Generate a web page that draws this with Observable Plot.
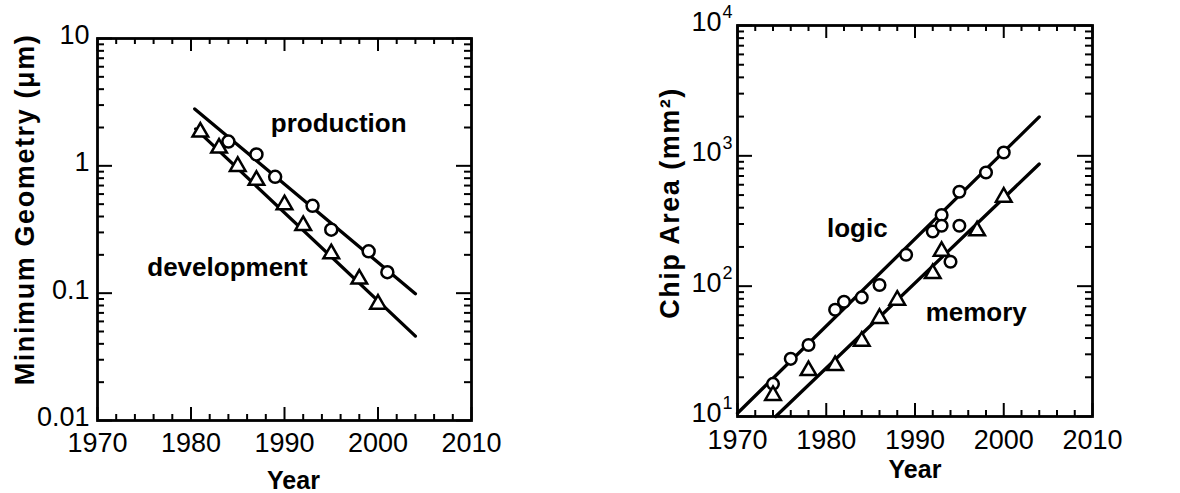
<!DOCTYPE html>
<html><head><meta charset="utf-8">
<script src="https://cdn.jsdelivr.net/npm/d3@7"></script>
<script src="https://cdn.jsdelivr.net/npm/@observablehq/plot@0.6"></script>
<style>
html,body{margin:0;padding:0;background:#fff;}
#wrap{position:relative;width:1180px;height:493px;overflow:hidden;background:#fff;}
#left{position:absolute;left:0;top:0;}
#right{position:absolute;left:600px;top:0;}
svg{overflow:visible;}
</style></head><body><div id="wrap"><div id="left"></div><div id="right"></div></div>
<script>
// ---------- Left panel: minimum geometry ----------
const prodYears = [1984, 1987, 1989, 1993, 1995, 1999, 2001];
const prodValues = [1.55, 1.23, 0.82, 0.485, 0.315, 0.213, 0.146];
const devYears = [1981, 1983, 1985, 1987, 1990, 1992, 1995, 1998, 2000];
const devValues = [1.84, 1.38, 0.99, 0.77, 0.495, 0.34, 0.204, 0.129, 0.082];
const prodTrendYears = [1980.4, 2004];
const prodTrendValues = [2.8, 0.099];
const devTrendYears = [1980.5, 2004];
const devTrendValues = [1.95, 0.046];
const leftLabels = ["production", "development"];
const leftLabelYears = [1995.8, 1983.9];
const leftLabelValues = [2.13, 0.16];

// ---------- Right panel: chip area ----------
const logicYears = [1974, 1976, 1978, 1981, 1982, 1984, 1986, 1989, 1992, 1993, 1993, 1994, 1995, 1995, 1998, 2000];
const logicValues = [17.8, 27.7, 35.4, 66, 76, 82, 102, 174, 263, 352, 291, 154, 530, 291, 745, 1060];
const memoryYears = [1974, 1978, 1981, 1984, 1986, 1988, 1992, 1993, 1997, 2000];
const memoryValues = [14.5, 22.5, 24.6, 37.8, 56.6, 78, 125, 185, 266, 482];
const logicTrendYears = [1970, 2004];
const logicTrendValues = [10.6, 1990];
const memoryTrendYears = [1974.3, 2004];
const memoryTrendValues = [10, 865];
const rightLabels = ["logic", "memory"];
const rightLabelYears = [1983.5, 1996.9];
const rightLabelValues = [275, 63];

// ---------- Axes ----------
const yearTicks = [1970, 1980, 1990, 2000, 2010];
const leftYTicks = [0.01, 0.1, 1, 10];
const leftYTickLabels = ["0.01", "0.1", "1", "10"];
const rightYTicks = [10, 100, 1000, 10000];
const rightYBase = "10";
const rightYExponents = ["1", "2", "3", "4"];
const xTitle = "Year";
const leftYTitle = "Minimum Geometry (μm)";
const rightYTitle = "Chip Area (mm²)";

const FONT = "'Liberation Sans', Arial, Helvetica, sans-serif";
const zip = (xs, ys) => xs.map((year, i) => ({year, value: ys[i]}));
const minorYears = d3.range(1972, 2010, 2).filter(y => y % 10 !== 0);
const logMinor = decades => decades.flatMap(d => d3.range(2, 10).map(k => d * k));

function frameTicks(W, H, mt, mr, mb, ml, yMajor, yMinor) {
  const pw = W - ml - mr, ph = H - mt - mb;
  const Lx = 13, lx = 6, Ly = 15, ly = 7;
  const s = {stroke: "black", strokeWidth: 2};
  return [
    Plot.tickX(yearTicks, {x: d => d, insetTop: ph - Lx, ...s}),
    Plot.tickX(yearTicks, {x: d => d, insetBottom: ph - Lx, ...s}),
    Plot.tickX(minorYears, {x: d => d, insetTop: ph - lx, ...s}),
    Plot.tickX(minorYears, {x: d => d, insetBottom: ph - lx, ...s}),
    Plot.tickY(yMajor, {y: d => d, insetRight: pw - Ly, ...s}),
    Plot.tickY(yMajor, {y: d => d, insetLeft: pw - Ly, ...s}),
    Plot.tickY(yMinor, {y: d => d, insetRight: pw - ly, ...s}),
    Plot.tickY(yMinor, {y: d => d, insetLeft: pw - ly, ...s})
  ];
}

// ----- Left chart -----
{
  const W = 560, H = 493, mt = 38, mr = 89, mb = 73, ml = 97;
  const svg = Plot.plot({
    width: W, height: H, marginTop: mt, marginRight: mr, marginBottom: mb, marginLeft: ml,
    axis: null,
    style: {fontFamily: FONT, background: "transparent", overflow: "visible"},
    x: {domain: [1970, 2010]},
    y: {type: "log", domain: [0.01, 10]},
    marks: [
      ...frameTicks(W, H, mt, mr, mb, ml, leftYTicks, logMinor([0.01, 0.1, 1])),
      Plot.line(zip(prodTrendYears, prodTrendValues), {x: "year", y: "value", stroke: "black", strokeWidth: 3.3}),
      Plot.line(zip(devTrendYears, devTrendValues), {x: "year", y: "value", stroke: "black", strokeWidth: 3.3}),
      Plot.dot(zip(prodYears, prodValues), {x: "year", y: "value", r: 6, stroke: "black", strokeWidth: 2.5, fill: "white"}),
      Plot.dot(zip(devYears, devValues), {x: "year", y: "value", r: 5.8, symbol: "triangle", stroke: "black", strokeWidth: 2.5, fill: "white"}),
      Plot.text(leftLabels, {x: (d, i) => leftLabelYears[i], y: (d, i) => leftLabelValues[i], text: d => d, textAnchor: "middle", lineAnchor: "middle", fontSize: 26, fontWeight: "bold", fill: "black"}),
      Plot.frame({stroke: "black", strokeWidth: 2.8}),
      Plot.text(yearTicks, {x: d => d, frameAnchor: "bottom", lineAnchor: "middle", dy: 23, text: d => String(d), fontSize: 27, fill: "black"}),
      Plot.text(leftYTicks, {y: d => d, frameAnchor: "left", dx: -8, dy: -3, textAnchor: "end", lineAnchor: "middle", text: (d, i) => leftYTickLabels[i], fontSize: 27, fill: "black"}),
      Plot.text([xTitle], {frameAnchor: "bottom", dx: 9, dy: 68, textAnchor: "middle", lineAnchor: "bottom", text: d => d, fontSize: 25, fontWeight: "bold", fill: "black"}),
      Plot.text([leftYTitle], {frameAnchor: "left", dx: -72, dy: -20, rotate: -90, textAnchor: "middle", lineAnchor: "middle", text: d => d, fontSize: 27, fontWeight: "bold", fill: "black"})
    ]
  });
  d3.select(svg).selectAll("text").filter(function() { return this.textContent === leftYTitle; }).attr("letter-spacing", "1.6px");
  document.getElementById("left").appendChild(svg);
}

// ----- Right chart -----
{
  const W = 580, H = 493, mt = 25, mr = 88, mb = 77, ml = 137;
  const svg = Plot.plot({
    width: W, height: H, marginTop: mt, marginRight: mr, marginBottom: mb, marginLeft: ml,
    axis: null,
    style: {fontFamily: FONT, background: "transparent", overflow: "visible"},
    x: {domain: [1970, 2010]},
    y: {type: "log", domain: [10, 10000]},
    marks: [
      ...frameTicks(W, H, mt, mr, mb, ml, rightYTicks, logMinor([10, 100, 1000])),
      Plot.line(zip(logicTrendYears, logicTrendValues), {x: "year", y: "value", stroke: "black", strokeWidth: 3.3}),
      Plot.line(zip(memoryTrendYears, memoryTrendValues), {x: "year", y: "value", stroke: "black", strokeWidth: 3.3}),
      Plot.dot(zip(logicYears, logicValues), {x: "year", y: "value", r: 5.8, stroke: "black", strokeWidth: 2.5, fill: "white"}),
      Plot.dot(zip(memoryYears, memoryValues), {x: "year", y: "value", r: 5.8, symbol: "triangle", stroke: "black", strokeWidth: 2.5, fill: "white"}),
      Plot.text(rightLabels, {x: (d, i) => rightLabelYears[i], y: (d, i) => rightLabelValues[i], text: d => d, textAnchor: "middle", lineAnchor: "middle", fontSize: 26, fontWeight: "bold", fill: "black"}),
      Plot.frame({stroke: "black", strokeWidth: 2.8}),
      Plot.text(yearTicks, {x: d => d, frameAnchor: "bottom", lineAnchor: "middle", dy: 24, text: d => String(d), fontSize: 27, fill: "black"}),
      Plot.text(rightYTicks, {y: d => d, frameAnchor: "left", dx: -16, dy: -3, textAnchor: "end", lineAnchor: "middle", text: () => rightYBase, fontSize: 27, fill: "black"}),
      Plot.text(rightYTicks, {y: d => d, frameAnchor: "left", dx: -15, dy: -13, textAnchor: "start", lineAnchor: "middle", text: (d, i) => rightYExponents[i], fontSize: 18, fill: "black"}),
      Plot.text([xTitle], {frameAnchor: "bottom", dy: 61, textAnchor: "middle", lineAnchor: "bottom", text: d => d, fontSize: 25, fontWeight: "bold", fill: "black"}),
      Plot.text([rightYTitle], {frameAnchor: "left", dx: -67, dy: -18, rotate: -90, textAnchor: "middle", lineAnchor: "middle", text: d => d, fontSize: 27, fontWeight: "bold", fill: "black"})
    ]
  });
  d3.select(svg).selectAll("text").filter(function() { return this.textContent === rightYTitle; }).attr("letter-spacing", "1.5px");
  document.getElementById("right").appendChild(svg);
}
</script></body></html>
